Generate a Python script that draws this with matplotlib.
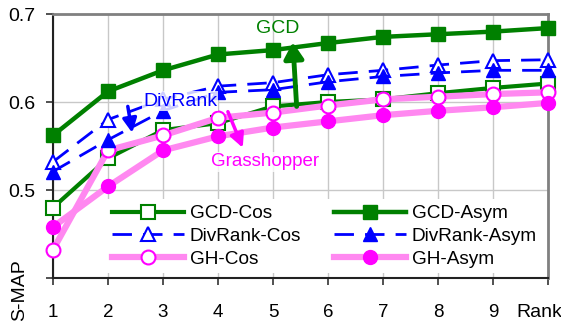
import numpy as np
import matplotlib
matplotlib.use('Agg')
import matplotlib.pyplot as plt

plt.rcParams['font.family'] = ['Liberation Sans', 'DejaVu Sans']

rank = [1, 2, 3, 4, 5, 6, 7, 8, 9, 10]
gcd_cos = [0.480, 0.536, 0.568, 0.576, 0.595, 0.600, 0.603, 0.610, 0.616, 0.621]
gcd_asym = [0.562, 0.612, 0.636, 0.654, 0.659, 0.667, 0.674, 0.677, 0.680, 0.684]
div_cos = [0.532, 0.580, 0.603, 0.618, 0.622, 0.631, 0.636, 0.642, 0.647, 0.648]
div_asym = [0.521, 0.557, 0.590, 0.611, 0.614, 0.623, 0.629, 0.633, 0.636, 0.636]
gh_cos = [0.432, 0.545, 0.562, 0.582, 0.588, 0.596, 0.603, 0.606, 0.609, 0.611]
gh_asym = [0.458, 0.504, 0.545, 0.561, 0.571, 0.578, 0.585, 0.590, 0.594, 0.599]
xtick_labels = ['1', '2', '3', '4', '5', '6', '7', '8', '9', '']

green = '#008000'
blue = '#0000ff'
magenta = '#ff00ff'
pink = '#ff88f0'

fig = plt.figure(figsize=(5.61, 3.29), dpi=100)
ax = fig.add_axes([53/561, 1-278/329, (548-53)/561, (278-14)/329])

kw = dict(ms=10, zorder=3, clip_on=False)
ax.plot(rank, gcd_cos, color=green, lw=3.0, marker='s', mfc='white', mec=green, mew=1.5, label='GCD-Cos', **kw)
ax.plot(rank, div_cos, color=blue, lw=2.0, ls=(0, (7, 4)), marker='^', mfc='white', mec=blue, mew=1.5, label='DivRank-Cos', **kw)
ax.plot(rank, gh_cos, color=pink, lw=4.5, marker='o', mfc='white', mec=magenta, mew=1.5, label='GH-Cos', **kw)
ax.plot(rank, gcd_asym, color=green, lw=3.2, marker='s', mfc=green, mec=green, label='GCD-Asym', **kw)
ax.plot(rank, div_asym, color=blue, lw=2.0, ls=(0, (7, 4)), marker='^', mfc=blue, mec=blue, label='DivRank-Asym', **kw)
ax.plot(rank, gh_asym, color=pink, lw=4.5, marker='o', mfc=magenta, mec=magenta, label='GH-Asym', **kw)

ax.set_xlim(1, 10)
ax.set_ylim(0.4, 0.7)
ax.set_xticks(rank)
ax.set_xticklabels(xtick_labels, fontsize=13.5)
ax.set_yticks([0.4, 0.5, 0.6, 0.7])
ax.set_yticklabels(['', '0.5', '0.6', '0.7'], fontsize=14)
ax.tick_params(direction='out', length=5, width=1.2, color='#333333')
ax.tick_params(axis='x', pad=14)
ax.tick_params(axis='y', pad=8)
ax.grid(True, color='#c8c8c8', lw=1)
ax.set_axisbelow(True)
for s in ['left', 'bottom']:
    ax.spines[s].set_color('#222222')
    ax.spines[s].set_linewidth(1.5)
for s in ['top', 'right']:
    ax.spines[s].set_color('#808080')
    ax.spines[s].set_linewidth(2)

ax.annotate('Rank', xy=(1.0, 0), xycoords='axes fraction', xytext=(10, -25),
            textcoords='offset points', ha='right', va='center', fontsize=14)
fig.text(20/561, 1-290/329, 'S-MAP', rotation=90, ha='center', va='center', fontsize=14)

# annotations
ax.annotate('', xy=(5.36, 0.668), xytext=(5.43, 0.595),
            arrowprops=dict(arrowstyle='-|>,head_width=0.45,head_length=0.75', lw=3.5,
                            color=green, mutation_scale=13, shrinkA=0, shrinkB=0), zorder=5)
ax.text(5.09, 0.683, 'GCD', color=green, fontsize=14, ha='center', va='center', zorder=6)

ax.annotate('', xy=(2.44, 0.565), xytext=(2.36, 0.595),
            arrowprops=dict(arrowstyle='-|>,head_width=0.35,head_length=0.7', lw=2.5,
                            color=blue, mutation_scale=12, shrinkA=0, shrinkB=0), zorder=5)
ax.text(3.31, 0.601, 'DivRank', color=blue, fontsize=14, ha='center', va='center', zorder=6,
        bbox=dict(facecolor='white', edgecolor='none', alpha=0.8, pad=1))

ax.annotate('', xy=(4.45, 0.548), xytext=(4.18, 0.589),
            arrowprops=dict(arrowstyle='-|>,head_width=0.35,head_length=0.7', lw=2.5,
                            color=magenta, mutation_scale=12, shrinkA=0, shrinkB=0), zorder=5)
ax.text(4.85, 0.532, 'Grasshopper', color=magenta, fontsize=13.5, ha='center', va='center', zorder=6,
        bbox=dict(facecolor='white', edgecolor='none', alpha=0.8, pad=1))

leg = ax.legend(ncol=2, loc='center', bbox_to_anchor=(0.548, 0.158), fontsize=13.7,
                handlelength=3.8, handletextpad=0.3, columnspacing=1.7, labelspacing=0.28,
                frameon=True, fancybox=False, borderpad=0.3)
leg.get_frame().set_edgecolor('none')
leg.get_frame().set_facecolor('white')
leg.get_frame().set_alpha(1)
leg.set_zorder(4)

fig.savefig('out.png', dpi=100)
